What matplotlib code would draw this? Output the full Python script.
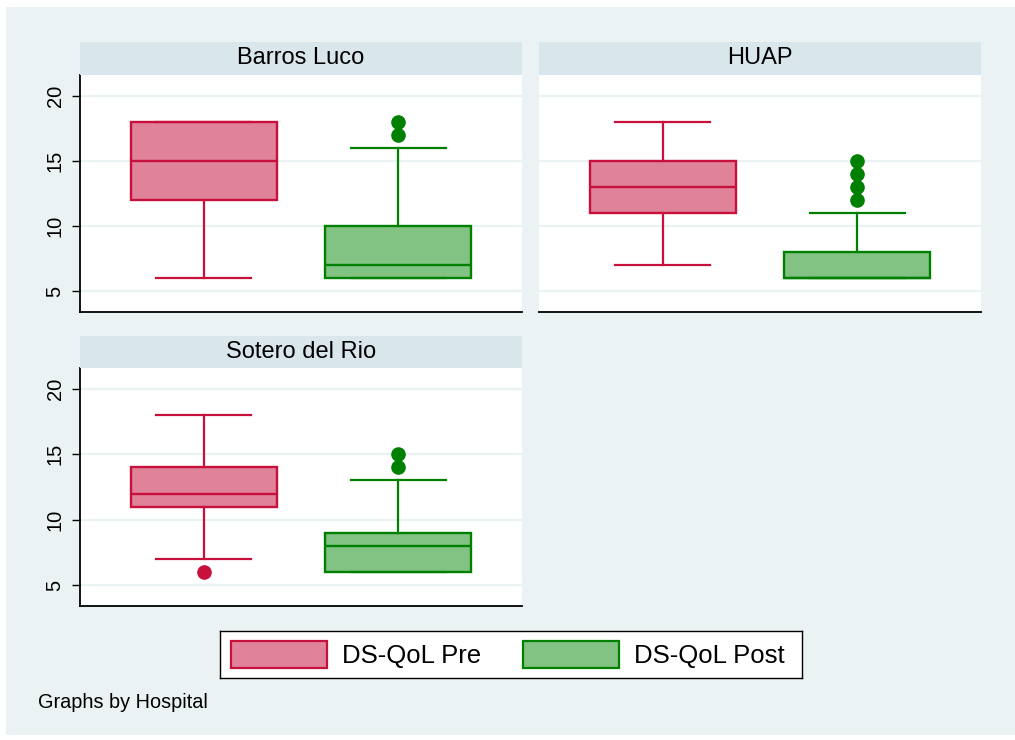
import matplotlib
matplotlib.use("Agg")
import matplotlib.pyplot as plt
from matplotlib.patches import Rectangle

plt.rcParams['font.family'] = ['Liberation Sans', 'DejaVu Sans']

# ---- data ----
hospitals = ["Barros Luco", "HUAP", "Sotero del Rio"]
series = ["DS-QoL Pre", "DS-QoL Post"]
# stats per hospital: [whislo, q1, med, q3, whishi]
pre_stats = [[6, 12, 15, 18, 18], [7, 11, 13, 15, 18], [7, 11, 12, 14, 18]]
post_stats = [[6, 6, 7, 10, 16], [6, 6, 6, 8, 11], [6, 6, 8, 9, 13]]
pre_outliers = [[], [], [6]]
post_outliers = [[17, 18], [12, 13, 14, 15], [14, 15]]
yticks = [5, 10, 15, 20]

W, H = 1015, 740
fig = plt.figure(figsize=(W / 100, H / 100), dpi=100, facecolor="white")

bg = "#EAF2F3"
strip_col = "#D9E6EB"
pre_fill, pre_edge = "#E0829A", "#C8103C"
post_fill, post_edge = "#82C282", "#008000"

bgrect = Rectangle((6 / W, 5 / H), (W - 6) / W, (H - 12) / H,
                   transform=fig.transFigure, facecolor=bg,
                   edgecolor="none", zorder=-10)
fig.add_artist(bgrect)


def px_axes(x0, y0, x1, y1):
    return fig.add_axes([x0 / W, 1 - y1 / H, (x1 - x0) / W, (y1 - y0) / H])


panels = [(80, 75, 522, 312, 42, True), (539, 75, 981, 312, 42, False),
          (80, 368, 522, 606, 336, True)]

for i, (x0, y0, x1, y1, sy, showy) in enumerate(panels):
    ax = px_axes(x0, y0, x1, y1)
    ax.set_facecolor("white")
    ax.set_ylim(3.4, 21.6)
    ax.set_xlim(-0.636, 1.636)
    for t in yticks:
        ax.axhline(t, color=bg, lw=1.6, zorder=0)
    stats = []
    for pos, (s, outl) in enumerate([(pre_stats[i], pre_outliers[i]),
                                     (post_stats[i], post_outliers[i])]):
        stats.append(dict(whislo=s[0], q1=s[1], med=s[2], q3=s[3],
                          whishi=s[4], fliers=outl))
    for pos, (st, fc, ec) in enumerate([(stats[0], pre_fill, pre_edge),
                                        (stats[1], post_fill, post_edge)]):
        ax.bxp([st], positions=[pos], widths=0.75, patch_artist=True,
               showfliers=True,
               boxprops=dict(facecolor=fc, edgecolor=ec, lw=1.7),
               medianprops=dict(color=ec, lw=1.7),
               whiskerprops=dict(color=ec, lw=1.6),
               capprops=dict(color=ec, lw=1.6),
               capwidths=0.49,
               flierprops=dict(marker="o", markerfacecolor=ec,
                               markeredgecolor=ec, markersize=9.5))
    ax.set_xticks([])
    ax.set_xlim(-0.636, 1.636)
    for sp in ["top", "right"]:
        ax.spines[sp].set_visible(False)
    ax.spines["bottom"].set_color("black")
    ax.spines["bottom"].set_linewidth(1.3)
    if showy:
        ax.spines["left"].set_color("black")
        ax.spines["left"].set_linewidth(1.3)
        ax.set_yticks(yticks)
        ax.set_yticklabels([str(t) for t in yticks], rotation=90,
                           va="center", fontsize=14.5)
        ax.tick_params(axis="y", length=6, width=1.0, pad=5)
    else:
        ax.spines["left"].set_visible(False)
        ax.set_yticks([])
    sax = px_axes(x0, sy, x1, y0)
    sax.set_facecolor(strip_col)
    sax.set_xticks([])
    sax.set_yticks([])
    for sp in sax.spines.values():
        sp.set_visible(False)
    sax.text(0.5, 0.5, hospitals[i], ha="center", va="center",
             fontsize=17, transform=sax.transAxes)

# legend
lax = px_axes(220, 631, 802, 678)
lax.set_xlim(220, 802)
lax.set_ylim(678, 631)
lax.set_xticks([])
lax.set_yticks([])
lax.set_facecolor("white")
for sp in lax.spines.values():
    sp.set_color("black")
    sp.set_linewidth(1.0)
for (px0, tx, fc, ec, lab) in [(231, 342, pre_fill, pre_edge, series[0]),
                               (523, 634, post_fill, post_edge, series[1])]:
    lax.add_patch(Rectangle((px0, 641), 96, 27, facecolor=fc, edgecolor=ec,
                            lw=1.6))
    lax.text(tx, 656, lab, ha="left", va="center", fontsize=18.5)

fig.text(38 / W, 1 - 702 / H, "Graphs by Hospital", ha="left", va="center",
         fontsize=14.3)

fig.savefig("out.png", dpi=100, facecolor="white")
